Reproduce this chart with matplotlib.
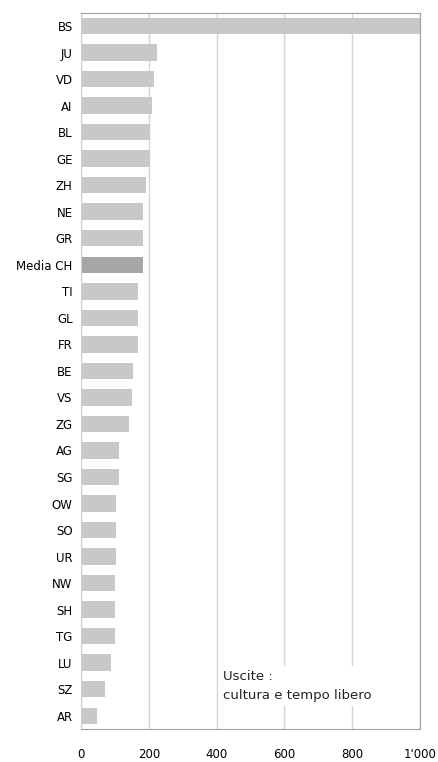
import matplotlib
matplotlib.use("Agg")
import matplotlib.pyplot as plt

cantons = ["BS", "JU", "VD", "AI", "BL", "GE", "ZH", "NE", "GR", "Media CH",
           "TI", "GL", "FR", "BE", "VS", "ZG", "AG", "SG", "OW", "SO",
           "UR", "NW", "SH", "TG", "LU", "SZ", "AR"]
values = [1005, 223, 214, 210, 204, 203, 191, 182, 182, 182,
          168, 168, 168, 154, 150, 141, 113, 113, 103, 103,
          103, 99, 99, 99, 89, 72, 48]
xticks = [0, 200, 400, 600, 800, 1000]
xtick_labels = ["0", "200", "400", "600", "800", "1'000"]

plt.rcParams["font.family"] = ["DejaVu Sans"]

fig = plt.figure(figsize=(4.39, 7.62), dpi=100)
ax = fig.add_axes([0.1845, 0.0433, 0.7725, 0.94])

colors = ["#a6a6a6" if c == "Media CH" else "#c8c8c8" for c in cantons]
ypos = list(range(len(cantons)))
ax.barh(ypos, values, height=0.62, color=colors, zorder=2)

ax.set_xlim(0, 1000)
ax.set_ylim(len(cantons) - 0.5, -0.5)
ax.set_yticks(ypos)
ax.set_yticklabels(cantons, fontsize=8.5)
ax.set_xticks(xticks)
ax.set_xticklabels(xtick_labels, fontsize=8.5)
ax.tick_params(axis="both", length=0)
ax.tick_params(axis="x", pad=14)
ax.tick_params(axis="y", pad=6)

ax.grid(axis="x", color="#d4d4d4", linewidth=1, zorder=0)
ax.set_axisbelow(True)
for side in ["top", "right", "bottom"]:
    ax.spines[side].set_color("#a0a0a0")
ax.spines["left"].set_color("#d0d0d0")

ax.text(0.42, 0.06, "Uscite :\ncultura e tempo libero", transform=ax.transAxes,
        fontsize=9.5, color="#222222", va="center", ha="left", linespacing=1.6,
        bbox=dict(facecolor="white", edgecolor="none", pad=3), zorder=3)

fig.savefig("out.png", dpi=100)
